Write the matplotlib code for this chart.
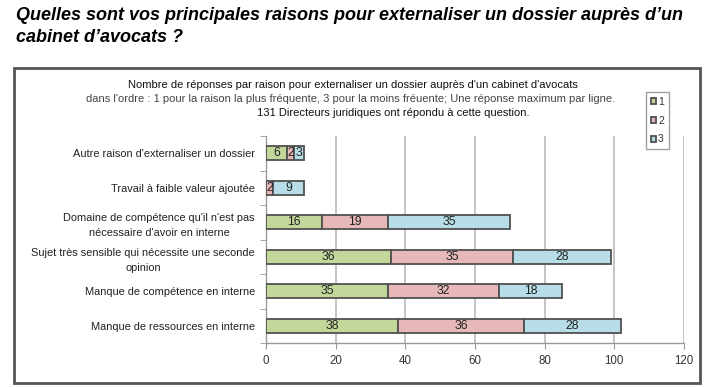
import matplotlib
matplotlib.use("Agg")
import matplotlib.pyplot as plt
from matplotlib.patches import Rectangle
import numpy as np

plt.rcParams['font.family'] = ['Liberation Sans', 'DejaVu Sans']

categories = [
    "Autre raison d'externaliser un dossier",
    "Travail à faible valeur ajoutée",
    "Domaine de compétence qu'il n'est pas\nnécessaire d'avoir en interne",
    "Sujet très sensible qui nécessite une seconde\nopinion",
    "Manque de compétence en interne",
    "Manque de ressources en interne",
]
rank1 = [6, 0, 16, 36, 35, 38]
rank2 = [2, 2, 19, 35, 32, 36]
rank3 = [3, 9, 35, 28, 18, 28]
series_names = ["1", "2", "3"]
colors = ["#c4d79b", "#e6b9b8", "#b7dee8"]
xticks = [0, 20, 40, 60, 80, 100, 120]

W, H = 710, 387
fig = plt.figure(figsize=(W / 100, H / 100), dpi=100)

# Question title
fig.text(16 / W, 1 - 15 / H, "Quelles sont vos principales raisons pour externaliser un dossier auprès d\u2019un",
         ha="left", va="center", fontsize=13, fontweight="bold", fontstyle="italic", color="black")
fig.text(16 / W, 1 - 38 / H, "cabinet d\u2019avocats ?",
         ha="left", va="center", fontsize=13, fontweight="bold", fontstyle="italic", color="black")

# Outer chart box
fig.patches.append(Rectangle((14 / W, 1 - 383 / H), (700 - 14) / W, (383 - 68) / H,
                             transform=fig.transFigure, fill=False, edgecolor="#555555", linewidth=2))

# Chart subtitle
fig.text(353 / W, 1 - 85 / H, "Nombre de réponses par raison pour externaliser un dossier auprès d'un cabinet d'avocats",
         ha="center", va="center", fontsize=8, color="#111111")
fig.text(351 / W, 1 - 99 / H, "dans l'ordre : 1 pour la raison la plus fréquente, 3 pour la moins fréuente; Une réponse maximum par ligne.",
         ha="center", va="center", fontsize=8, color="#444444")
fig.text(393 / W, 1 - 113 / H, "131 Directeurs juridiques ont répondu à cette question.",
         ha="center", va="center", fontsize=8, color="#111111")

left, right, top, bottom = 266, 684, 136, 343
ax = fig.add_axes([left / W, 1 - bottom / H, (right - left) / W, (bottom - top) / H])

n = len(categories)
y = np.arange(n)
lefts = np.zeros(n)
for vals, col, name in zip([rank1, rank2, rank3], colors, series_names):
    ax.barh(y, vals, left=lefts, height=0.42, color=col, edgecolor="#505050",
            linewidth=1.3, label=name, zorder=3)
    for yi, v, l in zip(y, vals, lefts):
        if v > 0:
            ax.text(l + v / 2, yi, str(v), ha="center", va="center", fontsize=8.8,
                    color="#222222", zorder=4)
    lefts = lefts + np.array(vals)

ax.set_xlim(0, 120)
ax.set_ylim(n - 0.5, -0.5)
ax.set_xticks(xticks)
ax.set_xticklabels([str(t) for t in xticks], fontsize=8.3, color="#333333")
ax.set_yticks(y)
ax.set_yticklabels(categories, fontsize=7.9, color="#222222", linespacing=1.6)
ax.tick_params(axis="y", length=0, pad=8)
ax.set_yticks(np.arange(-0.5, n, 1.0), minor=True)
ax.tick_params(axis="y", which="minor", length=4, color="#999999")
ax.tick_params(axis="x", length=4, color="#999999", pad=5)
ax.grid(axis="x", color="#bfbfbf", linewidth=1.3, zorder=0)
for s in ["top", "right"]:
    ax.spines[s].set_visible(False)
for s in ["left", "bottom"]:
    ax.spines[s].set_color("#999999")
    ax.spines[s].set_linewidth(1)
for lab in ax.get_yticklabels():
    lab.set_multialignment("center")

leg = ax.legend(loc="upper left", bbox_to_anchor=(646 / W, 1 - 92 / H), bbox_transform=fig.transFigure,
                fontsize=7.5, frameon=True, handlelength=0.55, handleheight=0.55, handletextpad=0.15,
                labelspacing=0.85, borderpad=0.45, borderaxespad=0, fancybox=False, edgecolor="#888888")
for t in leg.get_texts():
    t.set_color("#333333")

fig.savefig("out.png", dpi=100)
